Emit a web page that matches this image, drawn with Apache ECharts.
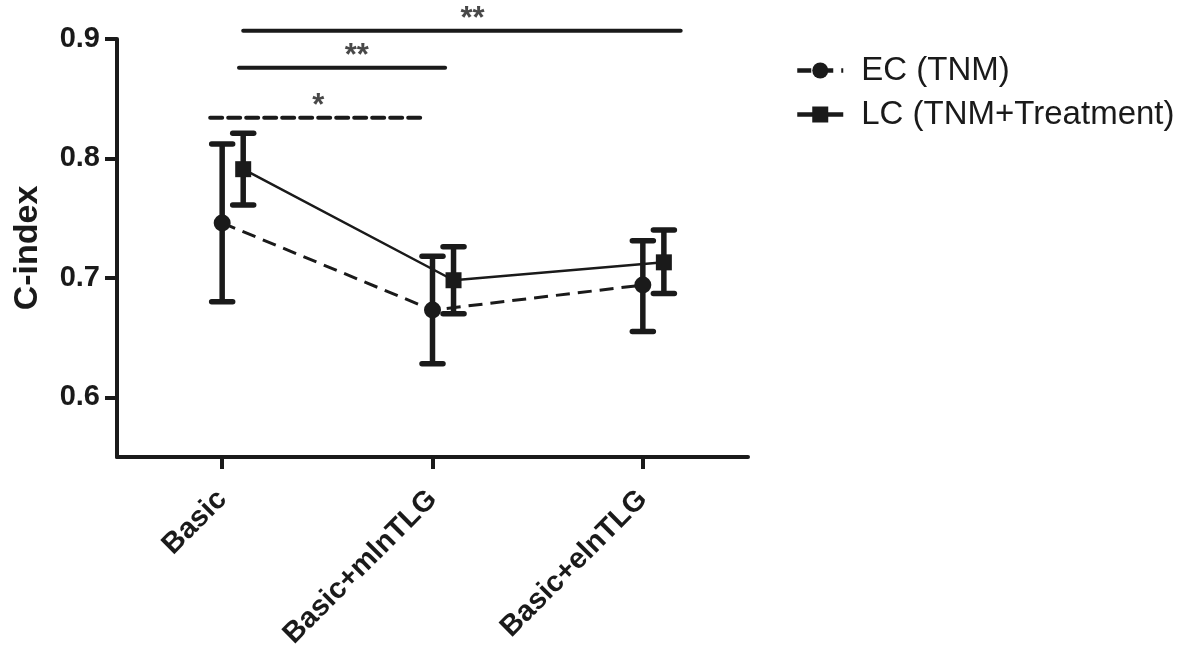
<!DOCTYPE html>
<html><head><meta charset="utf-8">
<script src="https://cdn.jsdelivr.net/npm/echarts@6/dist/echarts.min.js"></script>
<style>html,body{margin:0;padding:0;background:#fff}#c{width:1186px;height:649px}</style>
</head><body><div id="c"></div>
<script>
// ---- data ----
const categories = ['Basic', 'Basic+mlnTLG', 'Basic+elnTLG'];
const seriesNames = ['EC (TNM)', 'LC (TNM+Treatment)'];
const ecMean = [0.746, 0.673, 0.694];
const ecLow  = [0.680, 0.628, 0.655];
const ecHigh = [0.812, 0.718, 0.731];
const lcMean = [0.791, 0.698, 0.713];
const lcLow  = [0.761, 0.670, 0.687];
const lcHigh = [0.821, 0.726, 0.740];
const yTicks = [0.6, 0.7, 0.8, 0.9];
const sigLabels = ['*', '**', '**'];
const sigFrom = [0.943, 1.08, 1.10];
const sigTo = [1.967, 2.06, 3.18];
const sigY = [0.834, 0.876, 0.907];
const sigLabelX = [1.457, 1.64, 2.19];
const sigDashed = [true, false, false];

// ---- layout / style ----
const INK = '#1a1a1a';
const FONT = '"Liberation Sans", Arial, sans-serif';
const LC_OFFSET = 0.1;
const xs = categories.map((c, i) => i + 1);
const xsLC = xs.map(x => x + LC_OFFSET);

function errorSeries(name, xv, lows, highs) {
  return {
    type: 'custom', name: name, z: 2, silent: true, clip: false,
    data: xv.map((x, i) => [x, lows[i], highs[i]]),
    encode: { x: 0, y: [1, 2] },
    renderItem: function (params, api) {
      const x = api.value(0);
      const lo = api.coord([x, api.value(1)]);
      const hi = api.coord([x, api.value(2)]);
      const hw = 10.5;
      const cap = { stroke: INK, lineWidth: 5.5, lineCap: 'round' };
      const stem = { stroke: INK, lineWidth: 5.5, lineCap: 'butt' };
      return { type: 'group', children: [
        { type: 'line', shape: { x1: lo[0], y1: lo[1], x2: hi[0], y2: hi[1] }, style: stem },
        { type: 'line', shape: { x1: lo[0] - hw, y1: lo[1], x2: lo[0] + hw, y2: lo[1] }, style: cap },
        { type: 'line', shape: { x1: hi[0] - hw, y1: hi[1], x2: hi[0] + hw, y2: hi[1] }, style: cap }
      ]};
    }
  };
}

const series = [
  errorSeries('ec-err', xs, ecLow, ecHigh),
  errorSeries('lc-err', xsLC, lcLow, lcHigh),
  {
    type: 'line', name: seriesNames[0], z: 3,
    data: xs.map((x, i) => [x, ecMean[i]]),
    symbol: 'circle', symbolSize: 17,
    itemStyle: { color: INK },
    lineStyle: { color: INK, width: 3, type: [14, 8] }
  },
  {
    type: 'line', name: seriesNames[1], z: 3,
    data: xsLC.map((x, i) => [x, lcMean[i]]),
    symbol: 'rect', symbolSize: 16,
    itemStyle: { color: INK },
    lineStyle: { color: INK, width: 2.5 }
  }
];

sigLabels.forEach((lab, i) => {
  series.push({
    type: 'line', name: 'sig' + i, clip: false, silent: true, symbol: 'none', z: 1,
    data: [[sigFrom[i], sigY[i]], [sigTo[i], sigY[i]]],
    lineStyle: { color: INK, width: 4, cap: 'round', type: sigDashed[i] ? [12, 6] : 'solid' }
  });
  series.push({
    type: 'scatter', name: 'sigl' + i, clip: false, silent: true, symbolSize: 0,
    data: [[sigLabelX[i], sigY[i]]],
    label: { show: true, position: 'top', distance: -4, formatter: lab,
             color: INK, fontFamily: FONT, fontSize: 31, fontWeight: 'bold' }
  });
});

const chart = echarts.init(document.getElementById('c'), null, { renderer: 'canvas' });
chart.setOption({
  animation: false,
  backgroundColor: '#fff',
  grid: { left: 117, right: 438, top: 39, bottom: 192, containLabel: false, outerBoundsMode: 'none' },
  legend: {
    data: seriesNames, left: 790, top: 49, orient: 'vertical',
    itemWidth: 46, itemHeight: 20, itemGap: 11,
    lineStyle: { width: 4.5 },
    textStyle: { color: INK, fontFamily: FONT, fontSize: 33, padding: [0, 0, 0, 13] }
  },
  xAxis: {
    type: 'value', min: 0.5, max: 3.5,
    splitLine: { show: false },
    axisLine: { show: true, lineStyle: { color: INK, width: 4 } },
    axisTick: { show: true, customValues: xs, length: 12, lineStyle: { color: INK, width: 4 } },
    axisLabel: {
      customValues: xs, rotate: 45, margin: 38,
      formatter: v => categories[Math.round(v) - 1],
      color: INK, fontFamily: FONT, fontSize: 29, fontWeight: 'bold'
    }
  },
  yAxis: {
    type: 'value', min: 0.55, max: 0.9,
    name: 'C-index', nameLocation: 'middle', nameGap: 72, nameRotate: 90,
    nameTextStyle: { color: INK, fontFamily: FONT, fontSize: 34, fontWeight: 'bold' },
    splitLine: { show: false },
    axisLine: { show: true, lineStyle: { color: INK, width: 4 } },
    axisTick: { show: true, customValues: yTicks, length: 12, lineStyle: { color: INK, width: 4 } },
    axisLabel: {
      customValues: yTicks, margin: 17,
      formatter: v => v.toFixed(1),
      color: INK, fontFamily: FONT, fontSize: 29, fontWeight: 'bold'
    }
  },
  series: series
});
</script>
</body></html>
